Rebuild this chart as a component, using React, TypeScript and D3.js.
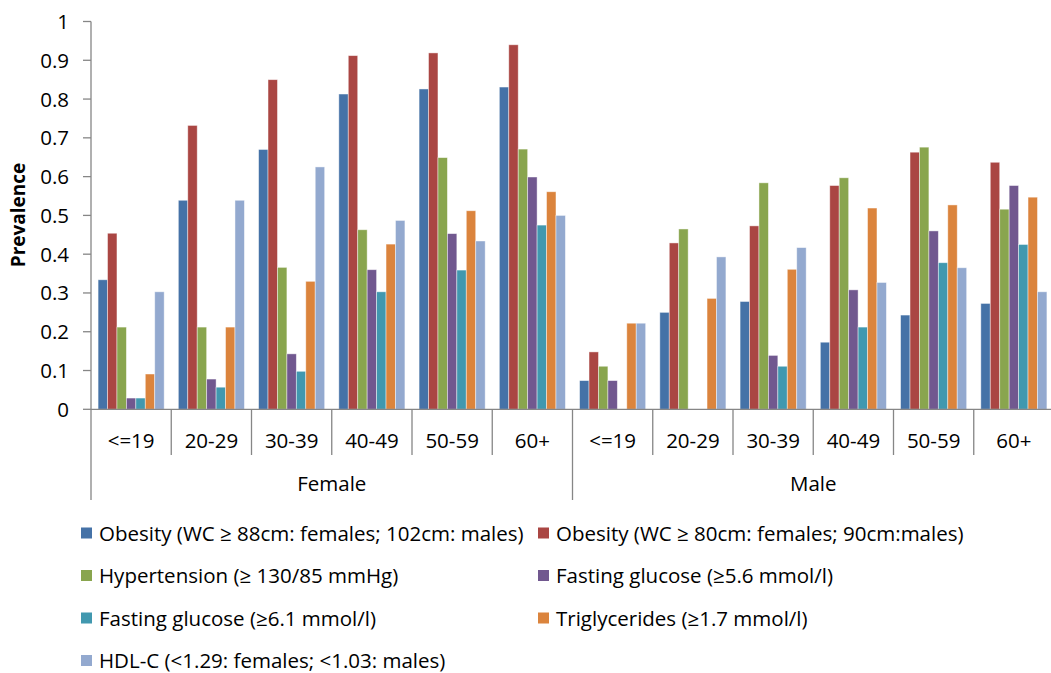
import React from "react";
import * as d3 from "d3";

// Age bands within each sex
const ageBands = ["<=19", "20-29", "30-39", "40-49", "50-59", "60+"];
const sexes = ["Female", "Male"];

const seriesNames = [
  "Obesity (WC ≥ 88cm: females; 102cm: males)",
  "Obesity (WC ≥ 80cm: females; 90cm:males)",
  "Hypertension (≥ 130/85 mmHg)",
  "Fasting glucose (≥5.6 mmol/l)",
  "Fasting glucose (≥6.1 mmol/l)",
  "Triglycerides (≥1.7 mmol/l)",
  "HDL-C (<1.29: females; <1.03: males)",
];

const seriesColors = ["#4572A7", "#AA4643", "#89A54E", "#71588F", "#4198AF", "#DB843D", "#93A9CF"];

// Prevalence per age band: Female <=19..60+, then Male <=19..60+
const obesity88 = [0.334, 0.539, 0.67, 0.813, 0.826, 0.831, 0.074, 0.25, 0.278, 0.173, 0.243, 0.273];
const obesity80 = [0.454, 0.732, 0.85, 0.912, 0.919, 0.94, 0.148, 0.429, 0.473, 0.577, 0.663, 0.637];
const hypertension = [0.212, 0.212, 0.366, 0.463, 0.649, 0.671, 0.111, 0.465, 0.584, 0.597, 0.676, 0.516];
const glucose56 = [0.029, 0.078, 0.143, 0.36, 0.453, 0.599, 0.074, 0, 0.139, 0.308, 0.46, 0.577];
const glucose61 = [0.029, 0.057, 0.098, 0.303, 0.359, 0.475, 0, 0, 0.111, 0.212, 0.378, 0.425];
const triglycerides = [0.091, 0.212, 0.33, 0.426, 0.512, 0.561, 0.222, 0.286, 0.361, 0.519, 0.527, 0.547];
const hdl = [0.303, 0.539, 0.625, 0.487, 0.434, 0.5, 0.222, 0.393, 0.417, 0.327, 0.365, 0.303];

const yTicks = [0, 0.1, 0.2, 0.3, 0.4, 0.5, 0.6, 0.7, 0.8, 0.9, 1];

const seriesValues = [obesity88, obesity80, hypertension, glucose56, glucose61, triglycerides, hdl];

const W = 1051;
const H = 673;
const FONT = "'Open Sans', Carlito, Calibri, sans-serif";
const AXIS = "#868686";

export default function App() {
  const left = 91;
  const right = 1054;
  const top = 21.5;
  const bottom = 409.3;

  const categories = sexes.flatMap((s) => ageBands.map((a) => `${s}|${a}`));

  const x0 = d3.scaleBand<string>().domain(categories).range([left, right]).padding(0);
  const x1 = d3
    .scaleBand<number>()
    .domain(d3.range(seriesNames.length))
    .range([0, x0.bandwidth()])
    .paddingInner(0)
    .paddingOuter(0.75);
  const y = d3.scaleLinear().domain([0, 1]).range([bottom, top]);

  const bw = x0.bandwidth();
  const boundaries = d3.range(categories.length + 1).map((i) => left + i * bw);

  const legendX = [81, 538];
  const legendY0 = 533;
  const legendDy = 42.5;

  return (
    <svg
      width={W}
      height={H}
      style={{ position: "absolute", left: 0, top: 0, background: "#fff" }}
      fontFamily={FONT}
    >
      {/* y-axis title */}
      <text
        transform={`translate(25,215) rotate(-90)`}
        textAnchor="middle"
        fontWeight="bold"
        fontSize={19}
        fill="#000"
      >
        Prevalence
      </text>

      {/* y ticks and labels */}
      {yTicks.map((t) => (
        <g key={t}>
          <line x1={83} x2={left} y1={y(t)} y2={y(t)} stroke={AXIS} strokeWidth={1.3} />
          <text x={69} y={y(t) + 7.5} textAnchor="end" fontSize={20.5} fill="#000">
            {d3.format("~g")(t)}
          </text>
        </g>
      ))}

      {/* bars */}
      {categories.map((c, ci) => (
        <g key={c} transform={`translate(${x0(c)},0)`}>
          {seriesValues.map((vals, si) => {
            const v = vals[ci];
            if (!v) return null;
            return (
              <rect
                key={si}
                x={x1(si)}
                y={y(v)}
                width={x1.bandwidth()}
                height={bottom - y(v)}
                fill={seriesColors[si]}
                stroke="#ffffff"
                strokeOpacity={0.55}
                strokeWidth={0.8}
              />
            );
          })}
        </g>
      ))}

      {/* axes lines */}
      <line x1={left} x2={left} y1={top} y2={bottom} stroke={AXIS} strokeWidth={1.3} />
      <line x1={left} x2={right} y1={bottom} y2={bottom} stroke={AXIS} strokeWidth={1.3} />

      {/* category boundaries */}
      {boundaries.map((bx, i) => (
        <line
          key={i}
          x1={bx}
          x2={bx}
          y1={bottom}
          y2={i % ageBands.length === 0 ? 500 : 455}
          stroke={AXIS}
          strokeWidth={1.3}
        />
      ))}

      {/* age band labels */}
      {categories.map((c) => (
        <text
          key={c}
          x={(x0(c) as number) + bw / 2}
          y={447.5}
          textAnchor="middle"
          fontSize={20.5}
          fill="#000"
        >
          {c.split("|")[1]}
        </text>
      ))}

      {/* sex labels */}
      {sexes.map((s, i) => (
        <text
          key={s}
          x={left + (i + 0.5) * bw * ageBands.length}
          y={491}
          textAnchor="middle"
          fontSize={20.5}
          fill="#000"
        >
          {s}
        </text>
      ))}

      {/* legend */}
      {seriesNames.map((name, i) => {
        const col = i % 2;
        const row = Math.floor(i / 2);
        const lx = legendX[col];
        const ly = legendY0 + row * legendDy;
        return (
          <g key={name} transform={`translate(${lx},${ly})`}>
            <rect x={0} y={-5.5} width={11} height={11} fill={seriesColors[i]} />
            <text x={18} y={7.5} fontSize={20.5} fill="#000">
              {name}
            </text>
          </g>
        );
      })}
    </svg>
  );
}
